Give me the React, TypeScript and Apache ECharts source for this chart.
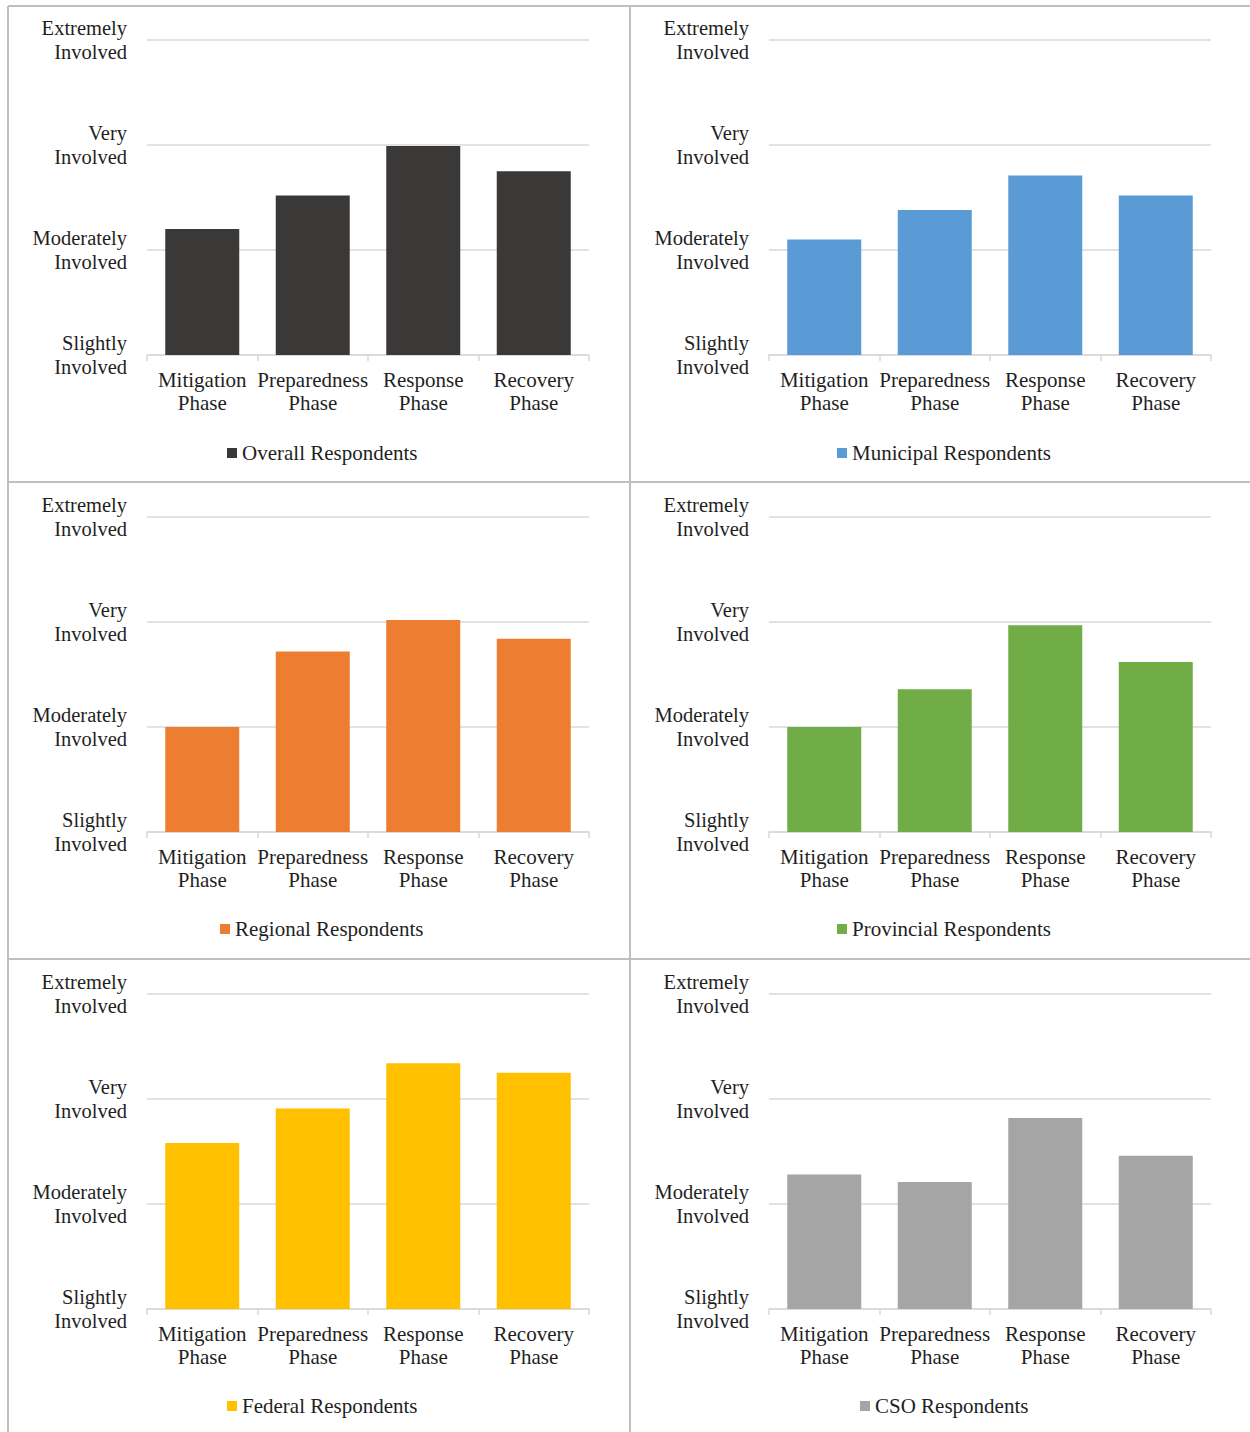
import React, { useEffect, useRef } from "react";
import * as echarts from "echarts";

// Involvement scale used on every y axis
const LEVEL_LABELS: Record<number, string> = {
  2: "Slightly\nInvolved",
  3: "Moderately\nInvolved",
  4: "Very\nInvolved",
  5: "Extremely\nInvolved",
};

const phases = ["Mitigation\nPhase", "Preparedness\nPhase", "Response\nPhase", "Recovery\nPhase"];

const overall = [3.2, 3.52, 3.99, 3.75];
const municipal = [3.1, 3.38, 3.71, 3.52];
const regional = [3.0, 3.72, 4.02, 3.84];
const provincial = [3.0, 3.36, 3.97, 3.62];
const federal = [3.58, 3.91, 4.34, 4.25];
const cso = [3.28, 3.21, 3.82, 3.46];

const groupNames = [
  "Overall Respondents",
  "Municipal Respondents",
  "Regional Respondents",
  "Provincial Respondents",
  "Federal Respondents",
  "CSO Respondents",
];
const groupValues = [overall, municipal, regional, provincial, federal, cso];
const groupColors = ["#3b3838", "#5b9bd5", "#ed7d31", "#70ad47", "#ffc000", "#a5a5a5"];

const W = 1250;
const H = 1432;
const FONT = "'Liberation Serif', 'Times New Roman', serif";
const TEXT = "#1f1f1f";
const GRID_GRAY = "#d9d9d9";
const FRAME_GRAY = "#bfbfbf";
const LABEL_SIZE = 21;
const AXIS_SIZE = 20.5;

// panel geometry
const colPlotLeft = [147, 769];
const plotWidth = 442;
const rowPlotTop = [40, 517, 994];
const plotHeight = 315;
const colCenter = [322, 944];
const legendCenterY = [453, 929, 1406];

function measure(text: string, size: number): number {
  const c = document.createElement("canvas").getContext("2d");
  if (!c) return text.length * size * 0.45;
  c.font = `${size}px 'Liberation Serif'`;
  return c.measureText(text).width;
}

export default function App() {
  const ref = useRef<HTMLDivElement>(null);

  useEffect(() => {
    document.body.style.margin = "0";
    if (!ref.current) return;
    const chart = echarts.init(ref.current, undefined, { renderer: "svg" });

    const grids: any[] = [];
    const xAxes: any[] = [];
    const yAxes: any[] = [];
    const series: any[] = [];
    const legends: any[] = [];

    groupNames.forEach((name, i) => {
      const col = i % 2;
      const row = Math.floor(i / 2);
      grids.push({
        left: colPlotLeft[col],
        top: rowPlotTop[row],
        width: plotWidth,
        height: plotHeight,
        containLabel: false,
      });
      xAxes.push({
        type: "category",
        gridIndex: i,
        data: phases,
        axisLine: { lineStyle: { color: GRID_GRAY, width: 1.5 } },
        axisTick: { show: true, length: 6, lineStyle: { color: GRID_GRAY, width: 1.5 } },
        axisLabel: {
          color: TEXT,
          fontFamily: FONT,
          fontSize: LABEL_SIZE,
          lineHeight: 23,
          margin: 13,
          interval: 0,
        },
      });
      yAxes.push({
        type: "value",
        gridIndex: i,
        min: 2,
        max: 5,
        interval: 1,
        axisLine: { show: false },
        axisTick: { show: false },
        splitLine: { lineStyle: { color: GRID_GRAY, width: 1.5 } },
        axisLabel: {
          color: TEXT,
          fontFamily: FONT,
          fontSize: AXIS_SIZE,
          lineHeight: 24,
          margin: 20,
          formatter: (v: number) => LEVEL_LABELS[v] ?? "",
        },
      });
      series.push({
        type: "bar",
        name,
        xAxisIndex: i,
        yAxisIndex: i,
        data: groupValues[i],
        barWidth: 74,
        itemStyle: { color: groupColors[i] },
      });
      const w = 10 + 5 + measure(name, LABEL_SIZE);
      legends.push({
        data: [name],
        left: Math.round(colCenter[col] - w / 2),
        top: legendCenterY[row] - 12,
        padding: 0,
        itemWidth: 10,
        itemHeight: 10,
        itemGap: 0,
        icon: "rect",
        selectedMode: false,
        textStyle: { color: TEXT, fontFamily: FONT, fontSize: LABEL_SIZE, lineHeight: 24 },
      });
    });

    const frame = (x1: number, y1: number, x2: number, y2: number) => ({
      type: "line",
      shape: { x1, y1, x2, y2 },
      style: { stroke: FRAME_GRAY, lineWidth: 2 },
      silent: true,
    });

    chart.setOption({
      animation: false,
      backgroundColor: "#ffffff",
      grid: grids,
      xAxis: xAxes,
      yAxis: yAxes,
      series,
      legend: legends,
      graphic: [
        frame(8, 6, W, 6),
        frame(8, 6, 8, H),
        frame(630, 6, 630, H),
        frame(8, 482, W, 482),
        frame(8, 959, W, 959),
      ],
    });

    return () => chart.dispose();
  }, []);

  return <div ref={ref} style={{ width: W, height: H }} />;
}
